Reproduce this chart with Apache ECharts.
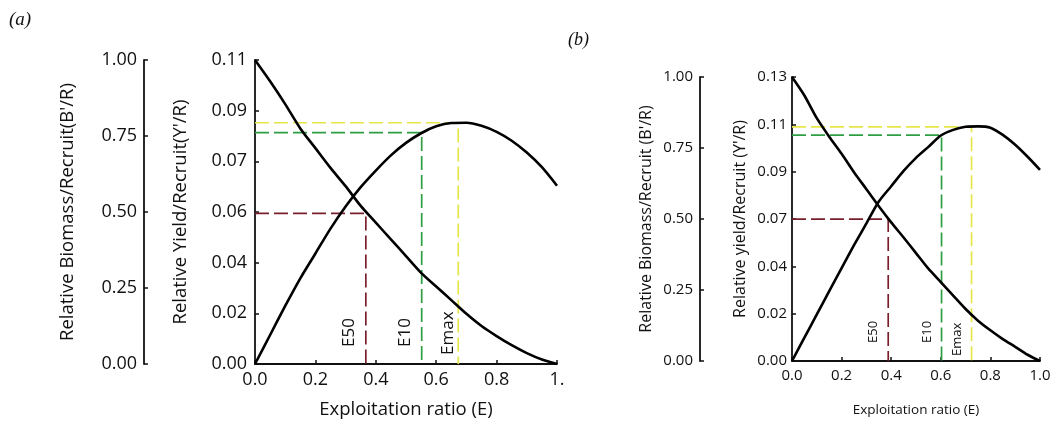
<!DOCTYPE html>
<html lang="en">

<head>
    <meta charset="UTF-8">
    <title>Relative yield and biomass per recruit</title>
    <script src="https://cdn.jsdelivr.net/npm/echarts@6.0.0/dist/echarts.min.js"></script>
    <style>
        body { margin: 0; background: #fff; }
    </style>
</head>

<body>
    <div id="main" style="width: 1055px;height:427px;"></div>
    <script type="text/javascript">
        // exploitation ratio steps shared by both panels
        const exploitation = [0, 0.05, 0.1, 0.15, 0.2, 0.25, 0.3, 0.35, 0.4, 0.45, 0.5,
            0.55, 0.6, 0.65, 0.7, 0.75, 0.8, 0.85, 0.9, 0.95, 1.0];

        // panel (a)
        const yieldA = [0, 0.0105, 0.021, 0.031, 0.040, 0.049, 0.057, 0.064, 0.070, 0.0755, 0.080,
            0.0835, 0.086, 0.0872, 0.0873, 0.0862, 0.084, 0.0808, 0.0765, 0.0712, 0.0645];
        const biomassA = [1.0, 0.93, 0.855, 0.775, 0.71, 0.645, 0.585, 0.52, 0.465, 0.41, 0.355,
            0.30, 0.255, 0.21, 0.165, 0.125, 0.092, 0.062, 0.036, 0.015, 0.0];
        const refNames = ['E50', 'E10', 'Emax'];
        const refEA = [0.367, 0.552, 0.673];
        const refYA = [0.0545, 0.0837, 0.0873];
        const yTicksA = ['0.00', '0.02', '0.04', '0.06', '0.07', '0.09', '0.11'];
        const xTicksA = ['0.0', '0.2', '0.4', '0.6', '0.8', '1.'];

        // panel (b)
        const yieldB = [0, 0.0107, 0.0213, 0.032, 0.0425, 0.053, 0.063, 0.073, 0.080, 0.087, 0.093,
            0.098, 0.1032, 0.1058, 0.1072, 0.1074, 0.1068, 0.1035, 0.099, 0.0935, 0.0875];
        const biomassB = [1.0, 0.935, 0.855, 0.79, 0.73, 0.665, 0.605, 0.545, 0.488, 0.435, 0.38,
            0.325, 0.278, 0.23, 0.183, 0.142, 0.108, 0.077, 0.05, 0.022, 0.0];
        const refEB = [0.388, 0.603, 0.724];
        const refYB = [0.0649, 0.1034, 0.1072];
        const yTicksB = ['0.00', '0.02', '0.04', '0.07', '0.09', '0.11', '0.13'];
        const xTicksB = ['0.0', '0.2', '0.4', '0.6', '0.8', '1.0'];
        const biomassTicks = ['0.00', '0.25', '0.50', '0.75', '1.00'];

        const refColors = ['#7b1e2c', '#2e9e44', '#e6e64a'];
        const FONT = 'Open Sans';

        let myChart = echarts.init(document.getElementById('main'));

        function pairs(xs, ys) {
            return xs.map((x, i) => [x, ys[i]]);
        }

        function axisBase(size, nameSize) {
            return {
                axisLine: { show: true, onZero: false, lineStyle: { color: '#111', width: 1.8 } },
                axisTick: { show: true, inside: true, length: 4, lineStyle: { color: '#111', width: 1.5 } },
                splitLine: { show: false },
                axisLabel: { color: '#111', fontFamily: FONT, fontSize: size },
                nameTextStyle: { color: '#111', fontFamily: FONT, fontSize: nameSize }
            };
        }

        function panel(p) {
            const gi = p.index;
            const ax = axisBase(p.font, p.nameFont);
            const yInt = p.yMax / 6;
            const xAxis = Object.assign({}, ax, {
                gridIndex: gi, type: 'value', min: 0, max: 1, interval: 0.2,
                name: 'Exploitation ratio (E)', nameLocation: 'middle', nameGap: p.xNameGap,
                nameTextStyle: Object.assign({}, ax.nameTextStyle, { fontSize: p.xNameFont }),
                axisLabel: Object.assign({}, ax.axisLabel, {
                    margin: 7,
                    formatter: v => p.xTicks[Math.round(v / 0.2)]
                })
            });
            const yYield = Object.assign({}, ax, {
                gridIndex: gi, type: 'value', position: 'left', min: 0, max: p.yMax, interval: yInt,
                name: p.yieldName, nameLocation: 'middle', nameGap: p.yieldGap,
                axisLabel: Object.assign({}, ax.axisLabel, {
                    margin: p.yMargin,
                    formatter: v => p.yTicks[Math.round(v / yInt)]
                })
            });
            const yBio = Object.assign({}, ax, {
                gridIndex: gi, type: 'value', position: 'left', offset: p.bioOffset,
                min: 0, max: 1, interval: 0.25,
                name: p.bioName, nameLocation: 'middle', nameGap: p.bioGap,
                axisLabel: Object.assign({}, ax.axisLabel, {
                    margin: 7,
                    formatter: v => biomassTicks[Math.round(v / 0.25)]
                })
            });
            const series = [];
            p.refE.forEach((e, i) => {
                let pts = [[0, p.refY[i]], [e, p.refY[i]], [e, 0]];
                series.push({
                    type: 'line', xAxisIndex: gi, yAxisIndex: gi * 2, data: pts,
                    symbol: 'none', silent: true, z: 1,
                    lineStyle: { color: refColors[i], width: 1.7, type: [14, 5] }
                });
            });
            series.push({
                type: 'line', xAxisIndex: gi, yAxisIndex: gi * 2, data: pairs(exploitation, p.yield),
                symbol: 'none', smooth: 0.25, z: 3,
                lineStyle: { color: '#000', width: 2.6 }
            });
            series.push({
                type: 'line', xAxisIndex: gi, yAxisIndex: gi * 2 + 1, data: pairs(exploitation, p.biomass),
                symbol: 'none', smooth: 0.25, z: 3,
                lineStyle: { color: '#000', width: 2.6 }
            });
            return { grid: p.grid, xAxis, yAxis: [yYield, yBio], series };
        }

        const panels = [
            {
                index: 0, grid: { left: 255, top: 60, width: 302, height: 304 },
                font: 18, nameFont: 18.5, xNameFont: 18.5, yMax: 0.11, yTicks: yTicksA, xTicks: xTicksA,
                yield: yieldA, biomass: biomassA, refE: refEA, refY: refYA,
                yieldName: "Relative Yield/Recruit(Y'/R)", bioName: "Relative Biomass/Recruit(B'/R)",
                yMargin: 8, yieldGap: 65, bioOffset: 111, bioGap: 67, xNameGap: 36,
                labelFont: 17, labelLift: [17, 17, 9], labelGap: [8, 8, 2]
            },
            {
                index: 1, grid: { left: 792, top: 77, width: 248, height: 284 },
                font: 15, nameFont: 16, xNameFont: 13.5, yMax: 0.13, yTicks: yTicksB, xTicks: xTicksB,
                yield: yieldB, biomass: biomassB, refE: refEB, refY: refYB,
                yieldName: "Relative yield/Recruit (Y'/R)", bioName: "Relative Biomass/Recruit (B'/R)",
                yMargin: 5, yieldGap: 44, bioOffset: 92, bioGap: 46, xNameGap: 42,
                labelFont: 13, labelLift: [18, 18, 5], labelGap: [8, 8, 8]
            }
        ];

        const built = panels.map(panel);
        let options = {
            animation: false,
            textStyle: { fontFamily: FONT },
            grid: built.map(b => b.grid),
            xAxis: built.map(b => b.xAxis),
            yAxis: built.reduce((acc, b) => acc.concat(b.yAxis), []),
            series: built.reduce((acc, b) => acc.concat(b.series), [])
        };
        myChart.setOption(options);

        // panel letters and the rotated E50 / E10 / Emax labels
        const graphics = [
            { type: 'text', left: 9, top: 10, style: { text: '(a)', font: 'italic 19px "Liberation Serif"', fill: '#111' } },
            { type: 'text', left: 568, top: 31, style: { text: '(b)', font: 'italic 18px "Liberation Serif"', fill: '#111' } }
        ];
        panels.forEach(p => {
            p.refE.forEach((e, i) => {
                const pt = myChart.convertToPixel({ gridIndex: p.index }, [e, 0]);
                graphics.push({
                    type: 'text', x: pt[0] - p.labelGap[i], y: pt[1] - p.labelLift[i],
                    rotation: Math.PI / 2,
                    style: {
                        text: refNames[i], font: p.labelFont + 'px "' + FONT + '"', fill: '#111',
                        align: 'left', verticalAlign: 'bottom'
                    }
                });
            });
        });
        myChart.setOption({ graphic: graphics });
    </script>
</body>

</html>
